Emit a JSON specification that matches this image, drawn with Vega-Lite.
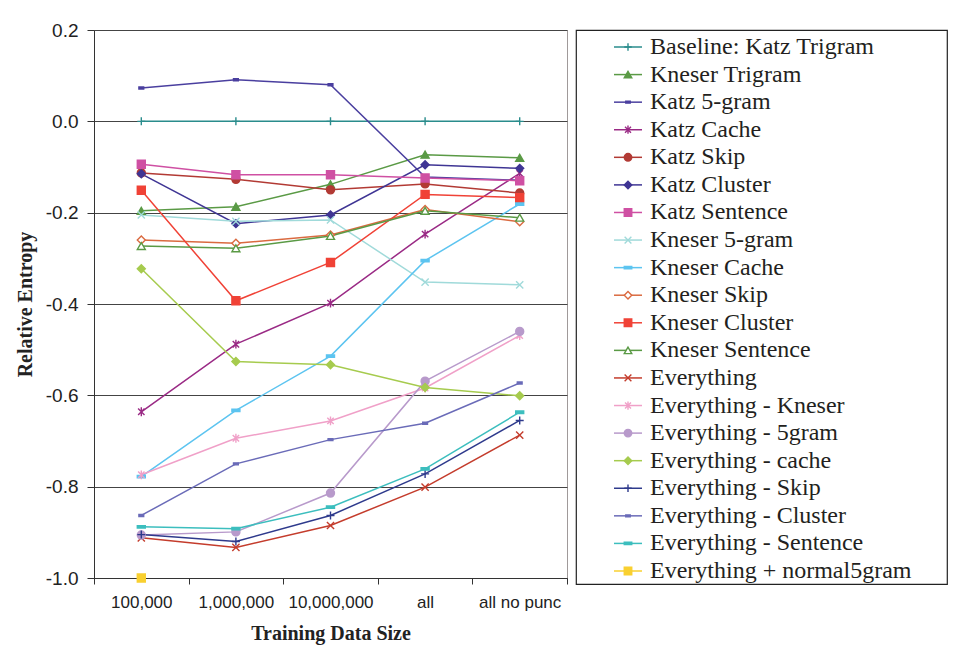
{
  "$schema": "https://vega.github.io/schema/vega-lite/v6.json",
  "padding": {"left": 14, "top": 20, "right": 5, "bottom": 5},
  "bounds": "flush",
  "spacing": 9,
  "background": "white",
  "config": {
    "view": {"stroke": "#a09a9a"},
    "axis": {"labelColor": "#222", "titleColor": "#222"}
  },
  "datasets": {
    "main": [
      {"series": "Baseline: Katz Trigram", "size": "100,000", "value": 0},
      {"series": "Baseline: Katz Trigram", "size": "1,000,000", "value": 0},
      {"series": "Baseline: Katz Trigram", "size": "10,000,000", "value": 0},
      {"series": "Baseline: Katz Trigram", "size": "all", "value": 0},
      {"series": "Baseline: Katz Trigram", "size": "all no punc", "value": 0},
      {"series": "Kneser Trigram", "size": "100,000", "value": -0.196},
      {"series": "Kneser Trigram", "size": "1,000,000", "value": -0.187},
      {"series": "Kneser Trigram", "size": "10,000,000", "value": -0.138},
      {"series": "Kneser Trigram", "size": "all", "value": -0.073},
      {"series": "Kneser Trigram", "size": "all no punc", "value": -0.080},
      {"series": "Katz 5-gram", "size": "100,000", "value": 0.073},
      {"series": "Katz 5-gram", "size": "1,000,000", "value": 0.091},
      {"series": "Katz 5-gram", "size": "10,000,000", "value": 0.080},
      {"series": "Katz 5-gram", "size": "all", "value": -0.122},
      {"series": "Katz 5-gram", "size": "all no punc", "value": -0.129},
      {"series": "Katz Cache", "size": "100,000", "value": -0.636},
      {"series": "Katz Cache", "size": "1,000,000", "value": -0.488},
      {"series": "Katz Cache", "size": "10,000,000", "value": -0.398},
      {"series": "Katz Cache", "size": "all", "value": -0.247},
      {"series": "Katz Cache", "size": "all no punc", "value": -0.114},
      {"series": "Katz Skip", "size": "100,000", "value": -0.113},
      {"series": "Katz Skip", "size": "1,000,000", "value": -0.127},
      {"series": "Katz Skip", "size": "10,000,000", "value": -0.150},
      {"series": "Katz Skip", "size": "all", "value": -0.137},
      {"series": "Katz Skip", "size": "all no punc", "value": -0.157},
      {"series": "Katz Cluster", "size": "100,000", "value": -0.115},
      {"series": "Katz Cluster", "size": "1,000,000", "value": -0.224},
      {"series": "Katz Cluster", "size": "10,000,000", "value": -0.205},
      {"series": "Katz Cluster", "size": "all", "value": -0.095},
      {"series": "Katz Cluster", "size": "all no punc", "value": -0.103},
      {"series": "Katz Sentence", "size": "100,000", "value": -0.094},
      {"series": "Katz Sentence", "size": "1,000,000", "value": -0.117},
      {"series": "Katz Sentence", "size": "10,000,000", "value": -0.117},
      {"series": "Katz Sentence", "size": "all", "value": -0.124},
      {"series": "Katz Sentence", "size": "all no punc", "value": -0.130},
      {"series": "Kneser 5-gram", "size": "100,000", "value": -0.205},
      {"series": "Kneser 5-gram", "size": "1,000,000", "value": -0.219},
      {"series": "Kneser 5-gram", "size": "10,000,000", "value": -0.216},
      {"series": "Kneser 5-gram", "size": "all", "value": -0.352},
      {"series": "Kneser 5-gram", "size": "all no punc", "value": -0.358},
      {"series": "Kneser Cache", "size": "100,000", "value": -0.778},
      {"series": "Kneser Cache", "size": "1,000,000", "value": -0.633},
      {"series": "Kneser Cache", "size": "10,000,000", "value": -0.514},
      {"series": "Kneser Cache", "size": "all", "value": -0.305},
      {"series": "Kneser Cache", "size": "all no punc", "value": -0.181},
      {"series": "Kneser Skip", "size": "100,000", "value": -0.260},
      {"series": "Kneser Skip", "size": "1,000,000", "value": -0.267},
      {"series": "Kneser Skip", "size": "10,000,000", "value": -0.249},
      {"series": "Kneser Skip", "size": "all", "value": -0.193},
      {"series": "Kneser Skip", "size": "all no punc", "value": -0.220},
      {"series": "Kneser Cluster", "size": "100,000", "value": -0.151},
      {"series": "Kneser Cluster", "size": "1,000,000", "value": -0.393},
      {"series": "Kneser Cluster", "size": "10,000,000", "value": -0.309},
      {"series": "Kneser Cluster", "size": "all", "value": -0.160},
      {"series": "Kneser Cluster", "size": "all no punc", "value": -0.167},
      {"series": "Kneser Sentence", "size": "100,000", "value": -0.273},
      {"series": "Kneser Sentence", "size": "1,000,000", "value": -0.278},
      {"series": "Kneser Sentence", "size": "10,000,000", "value": -0.251},
      {"series": "Kneser Sentence", "size": "all", "value": -0.196},
      {"series": "Kneser Sentence", "size": "all no punc", "value": -0.211},
      {"series": "Everything", "size": "100,000", "value": -0.912},
      {"series": "Everything", "size": "1,000,000", "value": -0.933},
      {"series": "Everything", "size": "10,000,000", "value": -0.885},
      {"series": "Everything", "size": "all", "value": -0.801},
      {"series": "Everything", "size": "all no punc", "value": -0.687},
      {"series": "Everything - Kneser", "size": "100,000", "value": -0.774},
      {"series": "Everything - Kneser", "size": "1,000,000", "value": -0.694},
      {"series": "Everything - Kneser", "size": "10,000,000", "value": -0.656},
      {"series": "Everything - Kneser", "size": "all", "value": -0.584},
      {"series": "Everything - Kneser", "size": "all no punc", "value": -0.469},
      {"series": "Everything - 5gram", "size": "100,000", "value": -0.906},
      {"series": "Everything - 5gram", "size": "1,000,000", "value": -0.899},
      {"series": "Everything - 5gram", "size": "10,000,000", "value": -0.814},
      {"series": "Everything - 5gram", "size": "all", "value": -0.569},
      {"series": "Everything - 5gram", "size": "all no punc", "value": -0.460},
      {"series": "Everything - cache", "size": "100,000", "value": -0.323},
      {"series": "Everything - cache", "size": "1,000,000", "value": -0.526},
      {"series": "Everything - cache", "size": "10,000,000", "value": -0.533},
      {"series": "Everything - cache", "size": "all", "value": -0.583},
      {"series": "Everything - cache", "size": "all no punc", "value": -0.601},
      {"series": "Everything - Skip", "size": "100,000", "value": -0.905},
      {"series": "Everything - Skip", "size": "1,000,000", "value": -0.920},
      {"series": "Everything - Skip", "size": "10,000,000", "value": -0.863},
      {"series": "Everything - Skip", "size": "all", "value": -0.772},
      {"series": "Everything - Skip", "size": "all no punc", "value": -0.655},
      {"series": "Everything - Cluster", "size": "100,000", "value": -0.863},
      {"series": "Everything - Cluster", "size": "1,000,000", "value": -0.750},
      {"series": "Everything - Cluster", "size": "10,000,000", "value": -0.697},
      {"series": "Everything - Cluster", "size": "all", "value": -0.661},
      {"series": "Everything - Cluster", "size": "all no punc", "value": -0.573},
      {"series": "Everything - Sentence", "size": "100,000", "value": -0.888},
      {"series": "Everything - Sentence", "size": "1,000,000", "value": -0.892},
      {"series": "Everything - Sentence", "size": "10,000,000", "value": -0.845},
      {"series": "Everything - Sentence", "size": "all", "value": -0.761},
      {"series": "Everything - Sentence", "size": "all no punc", "value": -0.637},
      {"series": "Everything + normal5gram", "size": "100,000", "value": -1.0}
    ],
    "legend": [
      {"series": "Baseline: Katz Trigram"},
      {"series": "Kneser Trigram"},
      {"series": "Katz 5-gram"},
      {"series": "Katz Cache"},
      {"series": "Katz Skip"},
      {"series": "Katz Cluster"},
      {"series": "Katz Sentence"},
      {"series": "Kneser 5-gram"},
      {"series": "Kneser Cache"},
      {"series": "Kneser Skip"},
      {"series": "Kneser Cluster"},
      {"series": "Kneser Sentence"},
      {"series": "Everything"},
      {"series": "Everything - Kneser"},
      {"series": "Everything - 5gram"},
      {"series": "Everything - cache"},
      {"series": "Everything - Skip"},
      {"series": "Everything - Cluster"},
      {"series": "Everything - Sentence"},
      {"series": "Everything + normal5gram"}
    ]
  },
  "hconcat": [
    {
      "width": 473,
      "height": 548,
      "data": {"name": "main"},
      "view": {"stroke": "#a09a9a"},
      "encoding": {
        "x": {
          "field": "size", "type": "nominal",
          "sort": ["100,000", "1,000,000", "10,000,000", "all", "all no punc"],
          "scale": {"type": "band", "paddingInner": 0, "paddingOuter": 0},
          "axis": {
            "title": "Training Data Size",
            "titleFont": "Liberation Serif", "titleFontSize": 20, "titleFontWeight": "bold",
            "titlePadding": 13,
            "labelFont": "Liberation Sans", "labelFontSize": 17, "labelAngle": 0, "labelPadding": 10,
            "tickBand": "extent", "tickSize": 6, "tickColor": "#333", "domainColor": "#333",
            "grid": false
          }
        },
        "y": {
          "field": "value", "type": "quantitative",
          "scale": {"domain": [-1, 0.2], "nice": false, "zero": false},
          "axis": {
            "title": "Relative Entropy",
            "titleFont": "Liberation Serif", "titleFontSize": 20, "titleFontWeight": "bold",
            "titlePadding": 10,
            "values": [-1, -0.8, -0.6, -0.4, -0.2, 0, 0.2],
            "format": ".1f",
            "labelExpr": "replace(datum.label, '\u2212', '-')",
            "labelFont": "Liberation Sans", "labelFontSize": 19, "labelPadding": 9,
            "tickSize": 7, "tickColor": "#333", "domainColor": "#333",
            "grid": true, "gridColor": "#444", "gridWidth": 1
          }
        }
      },
      "layer": [
        {
          "mark": {"type": "line", "strokeWidth": 1.5},
          "encoding": {
            "order": {"value": null},
            "stroke": {
              "field": "series", "type": "nominal", "legend": null,
              "scale": {
                "domain": ["Baseline: Katz Trigram", "Kneser Trigram", "Katz 5-gram", "Katz Cache", "Katz Skip", "Katz Cluster", "Katz Sentence", "Kneser 5-gram", "Kneser Cache", "Kneser Skip", "Kneser Cluster", "Kneser Sentence", "Everything", "Everything - Kneser", "Everything - 5gram", "Everything - cache", "Everything - Skip", "Everything - Cluster", "Everything - Sentence", "Everything + normal5gram"],
                "range": ["#2a8c8c", "#5a9a45", "#4a3f9f", "#9a2a85", "#b23a34", "#3f3594", "#cf50a3", "#a0dada", "#5cc4f0", "#da6a40", "#f04236", "#5a9a45", "#c43c2c", "#f0a0c8", "#b89acb", "#a6cb4e", "#2e3a8c", "#6a6bb8", "#3cbebe", "#f9d030"]
              }
            }
          }
        },
        {
          "mark": {"type": "point", "size": 64, "strokeWidth": 1.4, "opacity": 1},
          "encoding": {
            "stroke": {"field": "series", "type": "nominal", "legend": null},
            "fill": {
              "field": "series", "type": "nominal", "legend": null,
              "scale": {
                "domain": ["Baseline: Katz Trigram", "Kneser Trigram", "Katz 5-gram", "Katz Cache", "Katz Skip", "Katz Cluster", "Katz Sentence", "Kneser 5-gram", "Kneser Cache", "Kneser Skip", "Kneser Cluster", "Kneser Sentence", "Everything", "Everything - Kneser", "Everything - 5gram", "Everything - cache", "Everything - Skip", "Everything - Cluster", "Everything - Sentence", "Everything + normal5gram"],
                "range": ["#2a8c8c", "#5a9a45", "#4a3f9f", "#9a2a85", "#b23a34", "#3f3594", "#cf50a3", "#a0dada", "#5cc4f0", "white", "#f04236", "white", "#c43c2c", "#f0a0c8", "#b89acb", "#a6cb4e", "#2e3a8c", "#6a6bb8", "#3cbebe", "#f9d030"]
              }
            },
            "shape": {
              "field": "series", "type": "nominal", "legend": null,
              "scale": {
                "domain": ["Baseline: Katz Trigram", "Kneser Trigram", "Katz 5-gram", "Katz Cache", "Katz Skip", "Katz Cluster", "Katz Sentence", "Kneser 5-gram", "Kneser Cache", "Kneser Skip", "Kneser Cluster", "Kneser Sentence", "Everything", "Everything - Kneser", "Everything - 5gram", "Everything - cache", "Everything - Skip", "Everything - Cluster", "Everything - Sentence", "Everything + normal5gram"],
                "range": ["M-1,0H1M0,-1V1", "triangle-up", "M-0.6,-0.25H0.6V0.25H-0.6Z", "M-0.8,-0.8L0.8,0.8M-0.8,0.8L0.8,-0.8M0,-1.1V1.1", "circle", "diamond", "square", "M-0.9,-0.9L0.9,0.9M-0.9,0.9L0.9,-0.9", "M-1,-0.3H1V0.3H-1Z", "diamond", "square", "triangle-up", "M-0.9,-0.9L0.9,0.9M-0.9,0.9L0.9,-0.9", "M-0.8,-0.8L0.8,0.8M-0.8,0.8L0.8,-0.8M0,-1.1V1.1", "circle", "diamond", "M-1,0H1M0,-1V1", "M-0.6,-0.25H0.6V0.25H-0.6Z", "M-1,-0.3H1V0.3H-1Z", "square"]
              }
            }
          }
        }
      ]
    },
    {
      "width": 371,
      "height": 554,
      "data": {"name": "legend"},
      "view": {"stroke": "#222", "strokeWidth": 1.2},
      "encoding": {
        "y": {
          "field": "series", "type": "nominal",
          "scale": {
            "type": "point",
            "padding": 0,
            "domain": ["Baseline: Katz Trigram", "Kneser Trigram", "Katz 5-gram", "Katz Cache", "Katz Skip", "Katz Cluster", "Katz Sentence", "Kneser 5-gram", "Kneser Cache", "Kneser Skip", "Kneser Cluster", "Kneser Sentence", "Everything", "Everything - Kneser", "Everything - 5gram", "Everything - cache", "Everything - Skip", "Everything - Cluster", "Everything - Sentence", "Everything + normal5gram"],
            "range": [17, 541]
          },
          "axis": null
        }
      },
      "layer": [
        {
          "mark": {"type": "rule", "strokeWidth": 1.5},
          "encoding": {
            "x": {"datum": 38, "type": "quantitative", "scale": {"domain": [0, 371], "nice": false, "zero": false}, "axis": null},
            "x2": {"datum": 66},
            "stroke": {
              "field": "series", "type": "nominal", "legend": null,
              "scale": {
                "domain": ["Baseline: Katz Trigram", "Kneser Trigram", "Katz 5-gram", "Katz Cache", "Katz Skip", "Katz Cluster", "Katz Sentence", "Kneser 5-gram", "Kneser Cache", "Kneser Skip", "Kneser Cluster", "Kneser Sentence", "Everything", "Everything - Kneser", "Everything - 5gram", "Everything - cache", "Everything - Skip", "Everything - Cluster", "Everything - Sentence", "Everything + normal5gram"],
                "range": ["#2a8c8c", "#5a9a45", "#4a3f9f", "#9a2a85", "#b23a34", "#3f3594", "#cf50a3", "#a0dada", "#5cc4f0", "#da6a40", "#f04236", "#5a9a45", "#c43c2c", "#f0a0c8", "#b89acb", "#a6cb4e", "#2e3a8c", "#6a6bb8", "#3cbebe", "#f9d030"]
              }
            }
          }
        },
        {
          "mark": {"type": "point", "size": 56, "strokeWidth": 1.4, "opacity": 1},
          "encoding": {
            "x": {"datum": 52, "type": "quantitative"},
            "stroke": {"field": "series", "type": "nominal", "legend": null},
            "fill": {
              "field": "series", "type": "nominal", "legend": null,
              "scale": {
                "domain": ["Baseline: Katz Trigram", "Kneser Trigram", "Katz 5-gram", "Katz Cache", "Katz Skip", "Katz Cluster", "Katz Sentence", "Kneser 5-gram", "Kneser Cache", "Kneser Skip", "Kneser Cluster", "Kneser Sentence", "Everything", "Everything - Kneser", "Everything - 5gram", "Everything - cache", "Everything - Skip", "Everything - Cluster", "Everything - Sentence", "Everything + normal5gram"],
                "range": ["#2a8c8c", "#5a9a45", "#4a3f9f", "#9a2a85", "#b23a34", "#3f3594", "#cf50a3", "#a0dada", "#5cc4f0", "white", "#f04236", "white", "#c43c2c", "#f0a0c8", "#b89acb", "#a6cb4e", "#2e3a8c", "#6a6bb8", "#3cbebe", "#f9d030"]
              }
            },
            "shape": {
              "field": "series", "type": "nominal", "legend": null,
              "scale": {
                "domain": ["Baseline: Katz Trigram", "Kneser Trigram", "Katz 5-gram", "Katz Cache", "Katz Skip", "Katz Cluster", "Katz Sentence", "Kneser 5-gram", "Kneser Cache", "Kneser Skip", "Kneser Cluster", "Kneser Sentence", "Everything", "Everything - Kneser", "Everything - 5gram", "Everything - cache", "Everything - Skip", "Everything - Cluster", "Everything - Sentence", "Everything + normal5gram"],
                "range": ["M-1,0H1M0,-1V1", "triangle-up", "M-0.6,-0.25H0.6V0.25H-0.6Z", "M-0.8,-0.8L0.8,0.8M-0.8,0.8L0.8,-0.8M0,-1.1V1.1", "circle", "diamond", "square", "M-0.9,-0.9L0.9,0.9M-0.9,0.9L0.9,-0.9", "M-1,-0.3H1V0.3H-1Z", "diamond", "square", "triangle-up", "M-0.9,-0.9L0.9,0.9M-0.9,0.9L0.9,-0.9", "M-0.8,-0.8L0.8,0.8M-0.8,0.8L0.8,-0.8M0,-1.1V1.1", "circle", "diamond", "M-1,0H1M0,-1V1", "M-0.6,-0.25H0.6V0.25H-0.6Z", "M-1,-0.3H1V0.3H-1Z", "square"]
              }
            }
          }
        },
        {
          "mark": {"type": "text", "align": "left", "baseline": "middle", "font": "Liberation Serif", "fontSize": 24, "color": "#231f20"},
          "encoding": {
            "x": {"datum": 74, "type": "quantitative"},
            "text": {"field": "series", "type": "nominal"}
          }
        }
      ]
    }
  ]
}
